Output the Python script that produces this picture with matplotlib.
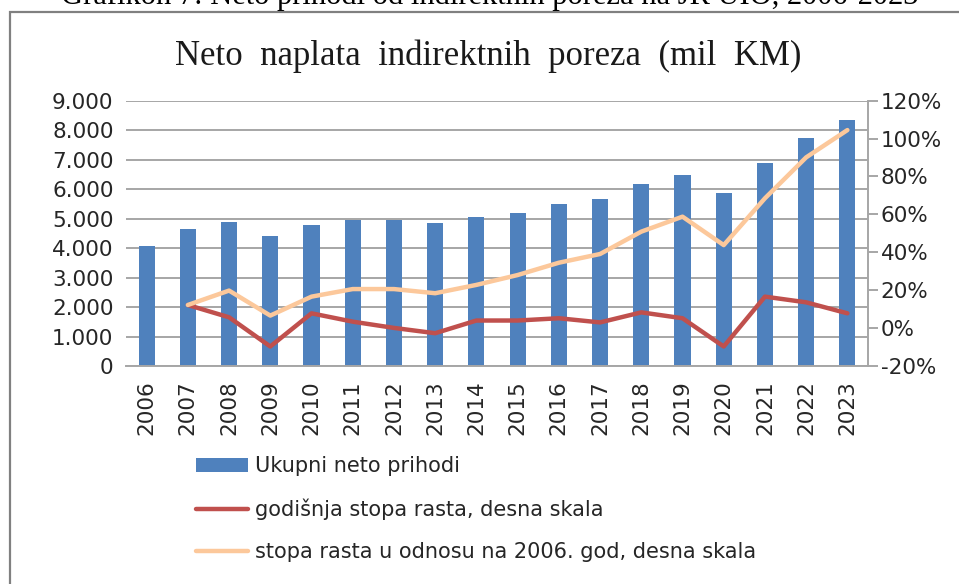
import matplotlib
matplotlib.use('Agg')
import matplotlib.pyplot as plt
import numpy as np
from matplotlib.ticker import FuncFormatter, MultipleLocator
from matplotlib.patches import Rectangle

# ---- data ----
years = [str(y) for y in range(2006, 2024)]
revenue = [4070, 4635, 4880, 4410, 4770, 4960, 4965, 4850, 5050, 5190,
           5480, 5670, 6180, 6485, 5875, 6880, 7735, 8345]
annual_growth = [np.nan, 12.2, 5.7, -9.7, 7.8, 3.4, 0.1, -2.7, 4.0, 4.0,
                 5.2, 3.0, 8.3, 5.2, -9.7, 16.6, 13.6, 7.8]
growth_vs_2006 = [np.nan, 12.2, 19.8, 6.6, 16.6, 20.6, 20.6, 18.4, 22.8, 28.0,
                  34.5, 39.1, 50.9, 58.8, 43.8, 68.5, 90.1, 104.5]
series_labels = ["Ukupni neto prihodi",
                 "godišnja stopa rasta, desna skala",
                 "stopa rasta u odnosu na 2006. god, desna skala"]
title = "Neto  naplata  indirektnih  poreza  (mil  KM)"
caption = "Grafikon 7: Neto prihodi od indirektnih poreza na JR UIO, 2006-2023"

BLUE = '#4F81BD'
RED = '#C0504D'
PEACH = '#FCC89B'
GRID = '#A6A6A6'
TXT = '#262626'

W, H = 959, 584
fig = plt.figure(figsize=(W / 100, H / 100), dpi=100)
fig.patch.set_facecolor('white')

# outer frame of the chart
fig.add_artist(Rectangle((10 / W, -0.01), 1.0, 1 - 12 / H + 0.01, transform=fig.transFigure,
                         fill=False, edgecolor='#808080', linewidth=1.6))

# caption (cut off at the top in the reference)
fig.text(490 / W, 1 - 4 / H, caption, ha='center', va='baseline',
         family='Liberation Serif', fontsize=22, color='black')

fig.text(488 / W, 1 - 65 / H, title, ha='center', va='baseline',
         family='Liberation Serif', fontsize=25, color='#1a1a1a')

ax = fig.add_axes([126 / W, 1 - 366 / H, (868 - 126) / W, (366 - 100.7) / H])
x = np.arange(len(years))
bars = ax.bar(x, revenue, width=0.39, color=BLUE, zorder=2, label=series_labels[0])
ax.set_xlim(-0.5, len(years) - 0.5)
ax.set_ylim(0, 9000)
ax.yaxis.set_major_locator(MultipleLocator(1000))
ax.yaxis.set_major_formatter(FuncFormatter(lambda v, p: f"{int(v):,}".replace(',', '.')))
ax.grid(axis='y', color=GRID, linewidth=1.4, zorder=0)
ax.set_axisbelow(True)
for s in ['left', 'top', 'right']:
    ax.spines[s].set_visible(False)
ax.spines['bottom'].set_color(GRID)
ax.spines['bottom'].set_linewidth(1.4)
ax.set_xticks(x)
ax.set_xticklabels(years, rotation=90, family='DejaVu Sans', fontsize=15.5, color=TXT)
ax.tick_params(axis='x', length=0, pad=10)
ax.tick_params(axis='y', length=0, pad=9, labelsize=15.5, labelcolor=TXT)

ax2 = ax.twinx()
ax2.set_ylim(-20, 120)
ax2.yaxis.set_major_locator(MultipleLocator(20))
ax2.yaxis.set_major_formatter(FuncFormatter(lambda v, p: f"{int(round(v))}%"))
l1, = ax2.plot(x, annual_growth, color=RED, linewidth=3.2, label=series_labels[1],
               solid_joinstyle='round', solid_capstyle='round')
l2, = ax2.plot(x, growth_vs_2006, color=PEACH, linewidth=3.2, label=series_labels[2],
               solid_joinstyle='round', solid_capstyle='round')
for s in ['left', 'top', 'bottom']:
    ax2.spines[s].set_visible(False)
ax2.spines['right'].set_color(GRID)
ax2.spines['right'].set_linewidth(1.4)
ax2.tick_params(axis='y', direction='out', length=7, width=1.4, color=GRID, pad=2,
                labelsize=15.5, labelcolor=TXT)

leg = fig.legend([bars, l1, l2], series_labels, loc='upper left',
                 bbox_to_anchor=(188 / W, 1 - 448 / H), frameon=False,
                 fontsize=15, handlelength=2.5, handleheight=0.6, handletextpad=0.3,
                 labelspacing=1.05, borderaxespad=0)
for t in leg.get_texts():
    t.set_color(TXT)

fig.savefig('out.png', dpi=100, facecolor='white')
